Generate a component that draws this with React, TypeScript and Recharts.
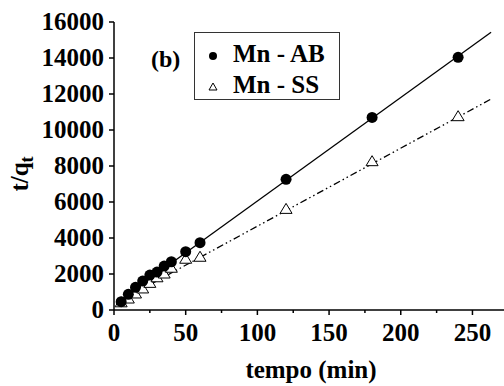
import React from 'react';
import { ScatterChart, Scatter, XAxis, YAxis } from 'recharts';

// tempo (min)
const tempo = [5, 10, 15, 20, 25, 30, 35, 40, 50, 60, 120, 180, 240];
// t/qt for each sample
const mnAB = [460, 870, 1260, 1610, 1940, 2110, 2440, 2680, 3240, 3740, 7260, 10700, 14040];
const mnSS = [400, 610, 890, 1170, 1480, 1790, 2000, 2320, 2820, 2930, 5590, 8240, 10740];

// fitted lines, end points
const fitX = [2, 263];
const fitAB = [420, 15430];
const fitSS = [410, 11720];

const xTicks = [0, 25, 50, 75, 100, 125, 150, 175, 200, 225, 250];
const yTicks = [0, 1000, 2000, 3000, 4000, 5000, 6000, 7000, 8000, 9000, 10000, 11000, 12000, 13000, 14000, 15000, 16000];

const txt = { fontFamily: 'Liberation Serif', fontWeight: 'bold' as const };
const axisLine = { stroke: '#000', strokeWidth: 1.5 };

const abData = tempo.map((t, i) => ({ x: t, y: mnAB[i] }));
const ssData = tempo.map((t, i) => ({ x: t, y: mnSS[i] }));
const abFit = fitX.map((t, i) => ({ x: t, y: fitAB[i] }));
const ssFit = fitX.map((t, i) => ({ x: t, y: fitSS[i] }));

const Dot = (p: any) => <circle cx={p.cx} cy={p.cy} r={5.5} fill="#000" />;
const Tri = (p: any) => (
    <path
        d={`M${p.cx},${p.cy - 6} L${p.cx + 6},${p.cy + 4} L${p.cx - 6},${p.cy + 4} Z`}
        fill="#fff"
        stroke="#000"
        strokeWidth={1}
    />
);
const NoShape = () => <g />;

function BottomTick(p: any) {
    const v = p.payload.value;
    const major = v % 50 === 0;
    return (
        <g>
            <line x1={p.x} x2={p.x} y1={p.y} y2={p.y + (major ? 5 : 3)} stroke="#000" strokeWidth={1.5} />
            {major && (
                <text x={p.x} y={p.y + 31} textAnchor="middle" style={txt} fontSize={25} fill="#000">
                    {v}
                </text>
            )}
        </g>
    );
}

function TopTick(p: any) {
    return <line x1={p.x} x2={p.x} y1={p.y} y2={p.y + 3} stroke="#000" />;
}

function LeftTick(p: any) {
    const v = p.payload.value;
    const major = v % 2000 === 0;
    return (
        <g>
            <line x1={p.x} x2={p.x - (major ? 5 : 3)} y1={p.y} y2={p.y} stroke="#000" strokeWidth={1.5} />
            {major && (
                <text x={p.x - 10} y={p.y + 8} textAnchor="end" style={txt} fontSize={25} fill="#000">
                    {v}
                </text>
            )}
        </g>
    );
}

export default function App() {
    return (
        <div style={{ position: 'absolute', left: 0, top: 0, width: 504, height: 386, background: '#fff' }}>
            <ScatterChart width={504} height={386} margin={{ top: 22, right: 0, bottom: 0, left: 0 }}>
                <XAxis
                    type="number"
                    dataKey="x"
                    domain={[0, 272]}
                    ticks={xTicks}
                    allowDataOverflow
                    tickSize={0}
                    tickMargin={0}
                    tickLine={false}
                    tick={BottomTick}
                    axisLine={axisLine}
                    height={76}
                />
                <XAxis
                    xAxisId="top"
                    orientation="top"
                    type="number"
                    dataKey="x"
                    domain={[0, 272]}
                    ticks={xTicks}
                    allowDataOverflow
                    tickSize={0}
                    tickMargin={0}
                    tickLine={false}
                    tick={TopTick}
                    axisLine={axisLine}
                    height={0}
                />
                <YAxis
                    type="number"
                    dataKey="y"
                    domain={[0, 16000]}
                    ticks={yTicks}
                    allowDataOverflow
                    tickSize={0}
                    tickMargin={0}
                    tickLine={false}
                    tick={LeftTick}
                    axisLine={axisLine}
                    width={114}
                />
                <Scatter data={abFit} line={{ stroke: '#000', strokeWidth: 1.3 }} shape={NoShape} isAnimationActive={false} />
                <Scatter
                    data={ssFit}
                    line={{ stroke: '#000', strokeWidth: 1.3, strokeDasharray: '7 3 1.5 3 1.5 3' }}
                    shape={NoShape}
                    isAnimationActive={false}
                />
                <Scatter data={ssData} shape={Tri} isAnimationActive={false} />
                <Scatter data={abData} shape={Dot} isAnimationActive={false} />
            </ScatterChart>

            {/* titulos, legenda e (b) por cima do grafico */}
            <svg width={504} height={386} style={{ position: 'absolute', left: 0, top: 0, pointerEvents: 'none' }}>
                <text x={311} y={378} textAnchor="middle" style={txt} fontSize={25}>
                    tempo (min)
                </text>
                <text transform="translate(28,174) rotate(-90)" textAnchor="middle" style={txt} fontSize={25}>
                    t/q<tspan fontSize={18} dy={5}>t</tspan>
                </text>
                <text x={151} y={67} style={txt} fontSize={24}>
                    (b)
                </text>
                <rect x={194.5} y={32.5} width={145} height={67} fill="#fff" stroke="#333" strokeWidth={1} />
                <circle cx={213} cy={56} r={4} fill="#000" />
                <text x={233} y={62} style={txt} fontSize={25}>
                    Mn - AB
                </text>
                <path d="M213,83 L217,90 L209,90 Z" fill="#fff" stroke="#000" strokeWidth={1} />
                <text x={233} y={93} style={txt} fontSize={25}>
                    Mn - SS
                </text>
            </svg>
        </div>
    );
}
